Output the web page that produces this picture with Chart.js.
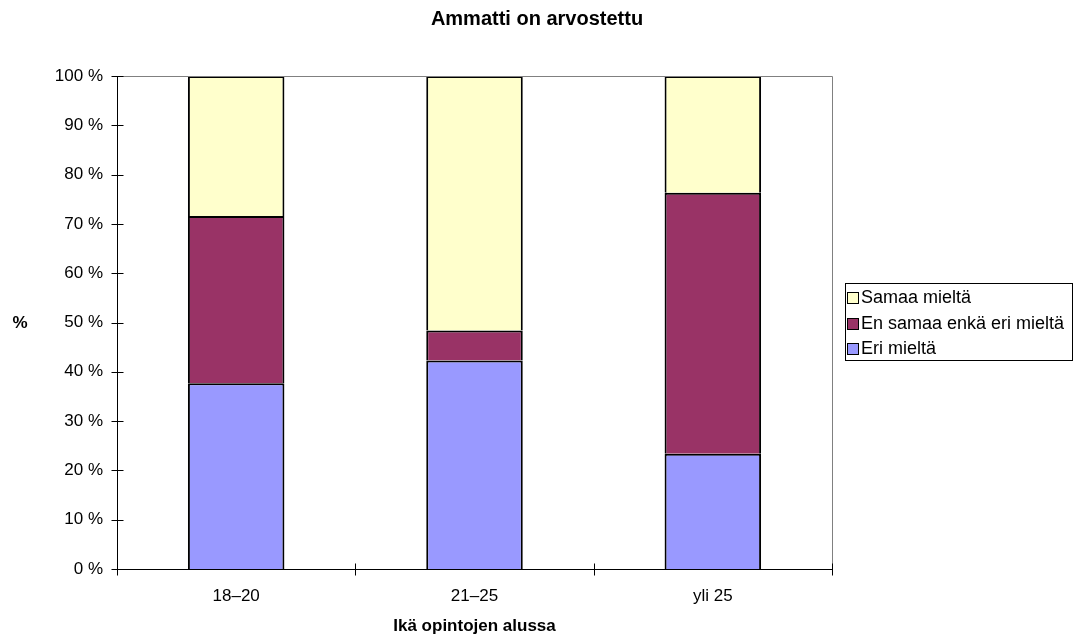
<!DOCTYPE html>
<html>
<head>
<meta charset="utf-8">
<script src="https://cdn.jsdelivr.net/npm/chart.js@4.4.1/dist/chart.umd.min.js"></script>
<style>
  html, body { margin: 0; padding: 0; background: #ffffff; }
  #wrap { width: 1074px; height: 637px; }
</style>
</head>
<body>
<div id="wrap"><canvas id="c" width="1074" height="637"></canvas></div>
<script>
// Age at start of studies
const categories = ['18–20', '21–25', 'yli 25'];
// Answer shares (%) per age group
const eriMielta = [37.7, 42.3, 23.4];
const enSamaaEnkaEri = [33.9, 6.1, 52.9];
const samaaMielta = [28.4, 51.6, 23.7];
// Value axis ticks
const yTicks = [0, 10, 20, 30, 40, 50, 60, 70, 80, 90, 100];

const FONT = '"Liberation Sans", Arial, sans-serif';

// Axis lines, cross tick marks, plot frame, titles and boxed legend
const decorations = {
  id: 'decorations',
  afterDatasetsDraw(chart) {
    const { ctx, chartArea: a, scales: { x, y } } = chart;
    const L = Math.round(a.left) + 0.5, R = Math.round(a.right) + 0.5;
    const T = Math.round(a.top) + 0.5, B = Math.round(a.bottom) + 0.5;
    ctx.save();
    ctx.lineWidth = 1;
    // grey frame on top and right
    ctx.strokeStyle = '#808080';
    ctx.beginPath();
    ctx.moveTo(L, T); ctx.lineTo(R, T); ctx.lineTo(R, B);
    ctx.stroke();
    // black axes
    ctx.strokeStyle = '#000000';
    ctx.beginPath();
    ctx.moveTo(L, T); ctx.lineTo(L, B); ctx.lineTo(R, B);
    ctx.stroke();
    // value axis tick marks (crossing)
    ctx.beginPath();
    yTicks.forEach(v => {
      const py = Math.round(y.getPixelForValue(v)) + 0.5;
      ctx.moveTo(L - 6, py); ctx.lineTo(L + 6, py);
    });
    // category boundaries tick marks (crossing)
    for (let i = 0; i <= categories.length; i++) {
      const px = Math.round(x.getPixelForValue(i - 0.5)) + 0.5;
      ctx.moveTo(px, B - 6); ctx.lineTo(px, B + 6);
    }
    ctx.stroke();
    ctx.restore();
  },
  afterDraw(chart) {
    const { ctx, chartArea: a } = chart;
    ctx.save();
    ctx.fillStyle = '#000000';
    ctx.textAlign = 'center';
    ctx.textBaseline = 'middle';
    // chart title, centred on the page
    ctx.font = 'bold 20px ' + FONT;
    ctx.fillText('Ammatti on arvostettu', chart.width / 2, 19);
    // axis titles
    ctx.font = 'bold 17px ' + FONT;
    ctx.fillText('%', 20, 323);
    ctx.fillText('Ikä opintojen alussa', (a.left + a.right) / 2, 626);

    // legend
    const bx = 845.5, by = 283.5, bw = 227, bh = 77;
    ctx.strokeStyle = '#000000';
    ctx.lineWidth = 1;
    ctx.strokeRect(bx, by, bw, bh);
    const items = chart.data.datasets.slice().reverse();
    ctx.font = '18px ' + FONT;
    ctx.textAlign = 'left';
    items.forEach((ds, i) => {
      const cy = 297.5 + i * 25.5;
      const top = Math.round(cy - 5.5) + 0.5;
      ctx.fillStyle = ds.backgroundColor;
      ctx.fillRect(847.5, top, 11, 11);
      ctx.strokeRect(847.5, top, 11, 11);
      ctx.fillStyle = '#000000';
      ctx.fillText(ds.label, 861, cy + 1);
    });
    ctx.restore();
  }
};

new Chart(document.getElementById('c'), {
  type: 'bar',
  data: {
    labels: categories,
    datasets: [
      { label: 'Eri mieltä', data: eriMielta, backgroundColor: '#9999FF' },
      { label: 'En samaa enkä eri mieltä', data: enSamaaEnkaEri, backgroundColor: '#993366' },
      { label: 'Samaa mieltä', data: samaaMielta, backgroundColor: '#FFFFCC' }
    ]
  },
  options: {
    responsive: false,
    animation: false,
    devicePixelRatio: 1,
    layout: { padding: { top: 76, right: 242, bottom: 0, left: 0 } },
    datasets: {
      bar: {
        barPercentage: 0.405,
        categoryPercentage: 1,
        borderColor: '#000000',
        borderWidth: 2,
        borderSkipped: 'bottom',
        inflateAmount: 0
      }
    },
    plugins: {
      legend: { display: false },
      tooltip: { enabled: false },
      title: { display: false }
    },
    scales: {
      x: {
        stacked: true,
        grid: { display: false, drawTicks: false },
        border: { display: false },
        ticks: { color: '#000000', font: { family: FONT, size: 17 }, padding: 17, maxRotation: 0 },
        afterFit(scale) { scale.height = 68; }
      },
      y: {
        stacked: true,
        min: 0,
        max: 100,
        grid: { display: false, drawTicks: false },
        border: { display: false },
        afterBuildTicks(scale) { scale.ticks = yTicks.map(v => ({ value: v })); },
        ticks: {
          color: '#000000',
          font: { family: FONT, size: 17 },
          padding: 14,
          callback: v => v + ' %'
        },
        afterFit(scale) { scale.width = 117; }
      }
    }
  },
  plugins: [decorations]
});
</script>
</body>
</html>
